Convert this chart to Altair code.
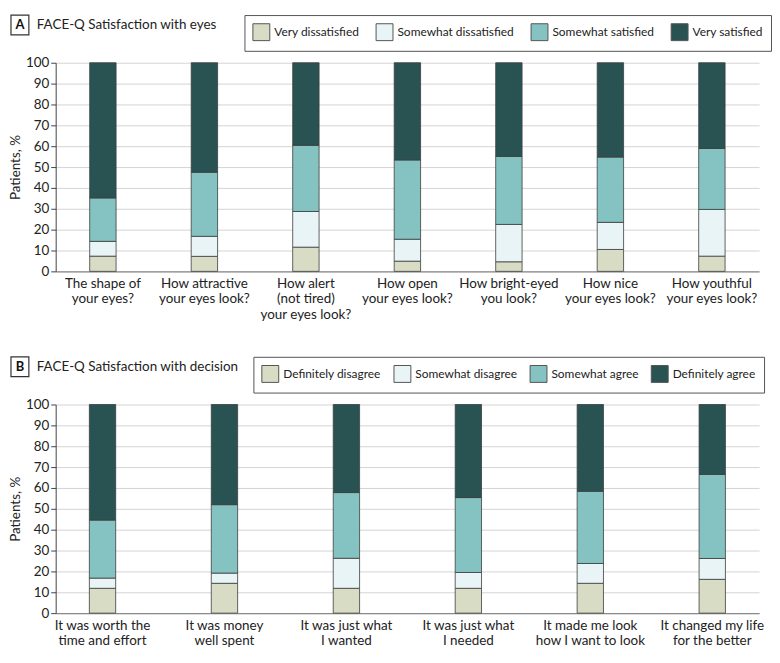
import altair as alt
import pandas as pd

FONT = "Lato, sans-serif"

# Panel A data
eyes_questions = [
    "The shape of|your eyes?",
    "How attractive|your eyes look?",
    "How alert|(not tired)|your eyes look?",
    "How open|your eyes look?",
    "How bright-eyed|you look?",
    "How nice|your eyes look?",
    "How youthful|your eyes look?",
]
eyes_levels = ["Very dissatisfied", "Somewhat dissatisfied", "Somewhat satisfied", "Very satisfied"]
eyes_very_dissatisfied = [7.3, 7.2, 11.6, 4.9, 4.6, 10.5, 7.3]
eyes_somewhat_dissatisfied = [7.1, 9.6, 17.1, 10.5, 17.9, 13.0, 22.4]
eyes_somewhat_satisfied = [20.8, 30.7, 31.7, 38.0, 32.6, 31.3, 29.2]
eyes_very_satisfied = [64.8, 52.5, 39.6, 46.6, 44.9, 45.2, 41.1]

# Panel B data
decision_questions = [
    "It was worth the|time and effort",
    "It was money|well spent",
    "It was just what|I wanted",
    "It was just what|I needed",
    "It made me look|how I want to look",
    "It changed my life|for the better",
]
decision_levels = ["Definitely disagree", "Somewhat disagree", "Somewhat agree", "Definitely agree"]
dec_definitely_disagree = [11.9, 14.3, 11.9, 11.9, 14.3, 16.2]
dec_somewhat_disagree = [4.9, 4.9, 14.4, 7.6, 9.5, 10.0]
dec_somewhat_agree = [27.8, 32.8, 31.5, 35.9, 34.6, 40.3]
dec_definitely_agree = [55.4, 48.0, 42.2, 44.6, 41.6, 33.5]

colors = ["#d9dcc5", "#e9f4f6", "#84c3c1", "#295353"]


def long_df(questions, levels, series):
    rows = []
    for li, (lev, vals) in enumerate(zip(levels, series)):
        for q, v in zip(questions, vals):
            rows.append({"question": q, "level": lev, "order": li, "value": v})
    return pd.DataFrame(rows)


df_a = long_df(eyes_questions, eyes_levels,
               [eyes_very_dissatisfied, eyes_somewhat_dissatisfied,
                eyes_somewhat_satisfied, eyes_very_satisfied])
df_b = long_df(decision_questions, decision_levels,
               [dec_definitely_disagree, dec_somewhat_disagree,
                dec_somewhat_agree, dec_definitely_agree])

W = 708
H = 210


def panel(df, questions, levels, letter, title, pad_inner, pad_outer, legend_x,
          col_pad, leg_font):
    bars = alt.Chart(df).mark_bar(stroke="#3c3c3c", strokeWidth=0.8).encode(
        x=alt.X("question:N", sort=questions, title=None,
                scale=alt.Scale(paddingInner=pad_inner, paddingOuter=pad_outer),
                axis=alt.Axis(labelExpr="split(datum.value, '|')", labelAngle=0,
                              labelFontSize=13.5, labelLineHeight=15.5, labelFont=FONT,
                              labelColor="#222", labelPadding=5, ticks=False,
                              domainColor="#8a8a8a", domainWidth=1.2, grid=False)),
        y=alt.Y("value:Q", stack="zero", title="Patients, %",
                scale=alt.Scale(domain=[0, 100], nice=False),
                axis=alt.Axis(values=list(range(0, 101, 10)), labelFontSize=13.5,
                              labelFont=FONT, labelColor="#222", tickSize=5,
                              tickColor="#444", domainColor="#444", labelPadding=2,
                              titleFont=FONT, titleFontSize=13.5, titleFontWeight="normal",
                              titleColor="#222", titlePadding=3,
                              gridColor="#d4d4d4", gridWidth=1)),
        color=alt.Color("level:N",
                        scale=alt.Scale(domain=levels, range=colors),
                        legend=alt.Legend(orient="none", legendX=legend_x, legendY=-48,
                                          direction="horizontal", columns=4, title=None,
                                          strokeColor="#555", fillColor="white", padding=8,
                                          symbolType="square", symbolSize=289,
                                          symbolStrokeColor="#555", symbolStrokeWidth=1,
                                          symbolOpacity=1,
                                          labelFont=FONT, labelFontSize=leg_font,
                                          labelColor="#222", labelOffset=4,
                                          columnPadding=col_pad)),
        order=alt.Order("order:Q", sort="ascending"),
    )
    lab = pd.DataFrame({"letter": [letter], "title": [title]})
    box = alt.Chart(lab).mark_rect(fill="white", stroke="#333", strokeWidth=1.2).encode(
        x=alt.value(-45), x2=alt.value(-27), y=alt.value(-48), y2=alt.value(-28))
    letter_txt = alt.Chart(lab).mark_text(font=FONT, fontSize=13, fontWeight="bold",
                                          color="#111", align="center", baseline="middle").encode(
        text="letter:N", x=alt.value(-36), y=alt.value(-38))
    title_txt = alt.Chart(lab).mark_text(font=FONT, fontSize=13.5, color="#222",
                                         align="left", baseline="middle").encode(
        text="title:N", x=alt.value(-19), y=alt.value(-38))
    return alt.layer(bars, box, letter_txt, title_txt).properties(width=W, height=H)


pa = panel(df_a, eyes_questions, eyes_levels, "A", "FACE-Q Satisfaction with eyes",
           0.74, 0.335, W + 6 - 524, 14, 12)
pb = panel(df_b, decision_questions, decision_levels, "B", "FACE-Q Satisfaction with decision",
           0.784, 0.276, W + 6 - 515, 10, 12)

chart = alt.vconcat(pa, pb, spacing=35).resolve_scale(color="independent").configure(
    padding={"left": 0, "top": 4, "right": 0, "bottom": 0}
).configure_view(stroke=None).configure_axisY(grid=True)

chart.save("out.html", embed_options={"renderer": "svg", "actions": False})
